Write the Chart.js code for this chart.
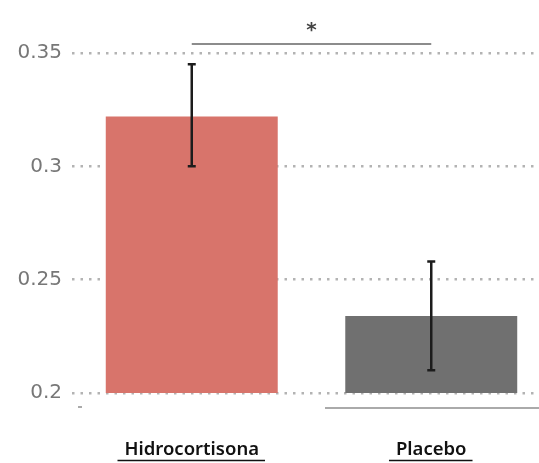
<!DOCTYPE html>
<html>
<head>
<meta charset="utf-8">
<script src="https://cdn.jsdelivr.net/npm/chart.js@4.4.1/dist/chart.umd.min.js"></script>
<style>
    html, body { margin: 0; padding: 0; background: #fff; overflow: hidden; }
    #wrap { width: 551px; height: 463px; }
</style>
</head>
<body>
<div id="wrap"><canvas id="barChart"></canvas></div>
<script>
// Dữ liệu
const categories = ['Hidrocortisona', 'Placebo'];
const means = [0.322, 0.234];
const errLow = [0.300, 0.210];
const errHigh = [0.345, 0.258];
const yTicks = [0.2, 0.25, 0.3, 0.35];
const barColors = ['#d8746b', '#707070'];
const sigLevel = 0.354;
const sigMark = '*';

const labelFont = { family: 'Noto Sans', size: 18.5, weight: '600' };

// Vẽ thanh sai số, đường ý nghĩa và gạch chân nhãn
const extrasPlugin = {
    id: 'extras',
    afterDatasetsDraw(chart) {
        const ctx = chart.ctx;
        const x = chart.scales.x;
        const y = chart.scales.y;
        ctx.save();
        ctx.strokeStyle = '#1c1c1c';
        ctx.lineWidth = 2.5;
        means.forEach((m, i) => {
            const px = x.getPixelForValue(i);
            const top = y.getPixelForValue(errHigh[i]);
            const bot = y.getPixelForValue(errLow[i]);
            ctx.beginPath();
            ctx.moveTo(px, top);
            ctx.lineTo(px, bot);
            ctx.moveTo(px - 4, top);
            ctx.lineTo(px + 4, top);
            ctx.moveTo(px - 4, bot);
            ctx.lineTo(px + 4, bot);
            ctx.stroke();
        });
        ctx.restore();
    },
    afterDraw(chart) {
        const ctx = chart.ctx;
        const x = chart.scales.x;
        const y = chart.scales.y;
        const area = chart.chartArea;
        ctx.save();

        // đường nối hai cột + dấu *
        const x1 = x.getPixelForValue(0);
        const x2 = x.getPixelForValue(1);
        const sy = y.getPixelForValue(sigLevel);
        ctx.strokeStyle = '#666';
        ctx.lineWidth = 1.5;
        ctx.beginPath();
        ctx.moveTo(x1, sy);
        ctx.lineTo(x2, sy);
        ctx.stroke();
        ctx.fillStyle = '#444';
        ctx.font = 'bold 20px "DejaVu Sans"';
        ctx.textAlign = 'center';
        ctx.textBaseline = 'middle';
        ctx.fillText(sigMark, (x1 + x2) / 2, sy - 13);

        // đường xám dưới trục
        ctx.strokeStyle = '#aaa';
        ctx.lineWidth = 2;
        ctx.beginPath();
        ctx.moveTo(area.left + 253, area.bottom + 15);
        ctx.lineTo(chart.width, area.bottom + 15);
        ctx.moveTo(area.left + 6, area.bottom + 14);
        ctx.lineTo(area.left + 10, area.bottom + 14);
        ctx.stroke();

        // gạch chân nhãn trục x
        ctx.font = labelFont.weight + ' ' + labelFont.size + 'px "' + labelFont.family + '"';
        ctx.strokeStyle = '#111';
        ctx.lineWidth = 1.5;
        categories.forEach((c, i) => {
            const px = x.getPixelForValue(i);
            const w = ctx.measureText(c).width;
            const uy = area.bottom + 67.5;
            ctx.beginPath();
            ctx.moveTo(px - w / 2 - 7, uy);
            ctx.lineTo(px + w / 2 + 6, uy);
            ctx.stroke();
        });
        ctx.restore();
    }
};

const ctx = document.getElementById('barChart').getContext('2d');
const barChart = new Chart(ctx, {
    type: 'bar',
    data: {
        labels: categories,
        datasets: [{
            data: means,
            backgroundColor: barColors,
            borderWidth: 0,
            barPercentage: 0.718,
            categoryPercentage: 1
        }]
    },
    options: {
        responsive: true,
        maintainAspectRatio: false,
        animation: false,
        layout: {
            padding: { top: 53, right: 0, bottom: 0, left: 0 }
        },
        plugins: {
            legend: { display: false },
            tooltip: { enabled: false }
        },
        scales: {
            x: {
                grid: { display: false, drawTicks: false },
                border: { display: false },
                ticks: {
                    padding: 46,
                    color: '#111',
                    font: labelFont
                },
                afterFit: function (scale) {
                    scale.height = 70;
                }
            },
            y: {
                min: 0.2,
                max: 0.35,
                grid: {
                    color: '#b3b3b3',
                    lineWidth: 2.5,
                    drawTicks: false
                },
                border: { display: false, dash: [2.5, 6] },
                ticks: {
                    padding: 10,
                    color: '#777',
                    font: { family: 'DejaVu Sans', size: 20 },
                    callback: function (value) {
                        return String(+value.toFixed(2));
                    }
                },
                afterBuildTicks: function (scale) {
                    scale.ticks = yTicks.map(v => ({ value: v }));
                },
                afterFit: function (scale) {
                    scale.width = 72;
                }
            }
        }
    },
    plugins: [extrasPlugin]
});
</script>
</body>
</html>
